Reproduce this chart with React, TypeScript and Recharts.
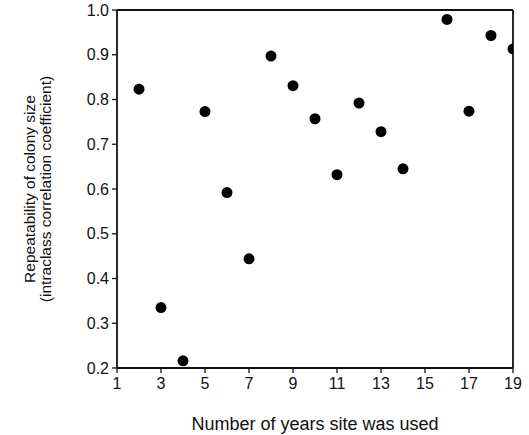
import { ScatterChart, Scatter, XAxis, YAxis, Label, ReferenceLine } from 'recharts';

const years = [2, 3, 4, 5, 6, 7, 8, 9, 10, 11, 12, 13, 14, 16, 17, 18, 19];
const repeatability = [0.823, 0.335, 0.216, 0.773, 0.592, 0.444, 0.897, 0.831, 0.757, 0.632, 0.792, 0.728, 0.645, 0.979, 0.774, 0.943, 0.913];
const xTicks = [1, 3, 5, 7, 9, 11, 13, 15, 17, 19];
const yTicks = [0.2, 0.3, 0.4, 0.5, 0.6, 0.7, 0.8, 0.9, 1.0];

const data = years.map((y, i) => ({ years: y, r: repeatability[i] }));

const FONT = 'Liberation Sans, Arial, sans-serif';
const INK = '#111';

function Dot(props: { cx?: number; cy?: number }) {
  return <circle cx={props.cx} cy={props.cy} r={5.5} fill="#000" />;
}

function YTitle(props: { viewBox?: { x: number; y: number; width: number; height: number } }) {
  const vb = props.viewBox || { x: 0, y: 10, width: 117, height: 358 };
  const cy = vb.y + vb.height / 2;
  const lines = ['Repeatability of colony size', '(intraclass correlation coefficient)'];
  const xs = [29, 45];
  return (
    <g>
      {lines.map((t, i) => (
        <text
          key={t}
          x={xs[i]}
          y={cy}
          transform={`rotate(-90, ${xs[i]}, ${cy})`}
          textAnchor="middle"
          dominantBaseline="central"
          fontSize={15.5}
          fontFamily={FONT}
          fill={INK}
        >
          {t}
        </text>
      ))}
    </g>
  );
}

export default function App() {
  return (
    <div style={{ position: 'absolute', left: 0, top: 0, background: '#fff' }}>
      <ScatterChart width={529} height={435} margin={{ top: 10, right: 16, bottom: 0, left: 0 }}>
        <XAxis
          type="number"
          dataKey="years"
          domain={[1, 19]}
          ticks={xTicks}
          allowDataOverflow
          height={67}
          tickSize={5}
          tickMargin={5}
          axisLine={{ stroke: INK, strokeWidth: 1.8 }}
          tickLine={{ stroke: INK, strokeWidth: 1.3 }}
          tick={{ fill: INK, fontSize: 16, fontFamily: FONT }}
        >
          <Label value="Number of years site was used" position="insideBottom" offset={5} style={{ fontSize: 18, fontFamily: FONT, fill: INK }} />
        </XAxis>
        <YAxis
          type="number"
          dataKey="r"
          domain={[0.2, 1.0]}
          ticks={yTicks}
          allowDataOverflow
          width={117}
          tickSize={5}
          tickMargin={3}
          tickFormatter={(v: number) => v.toFixed(1)}
          axisLine={{ stroke: INK, strokeWidth: 1.8 }}
          tickLine={{ stroke: INK, strokeWidth: 1.3 }}
          tick={{ fill: INK, fontSize: 16, fontFamily: FONT }}
        >
          <Label content={<YTitle />} />
        </YAxis>
        <ReferenceLine y={1.0} stroke={INK} strokeWidth={1.8} />
        <ReferenceLine x={19} stroke={INK} strokeWidth={1.8} />
        <Scatter data={data} fill="#000" shape={<Dot />} isAnimationActive={false} />
      </ScatterChart>
    </div>
  );
}
